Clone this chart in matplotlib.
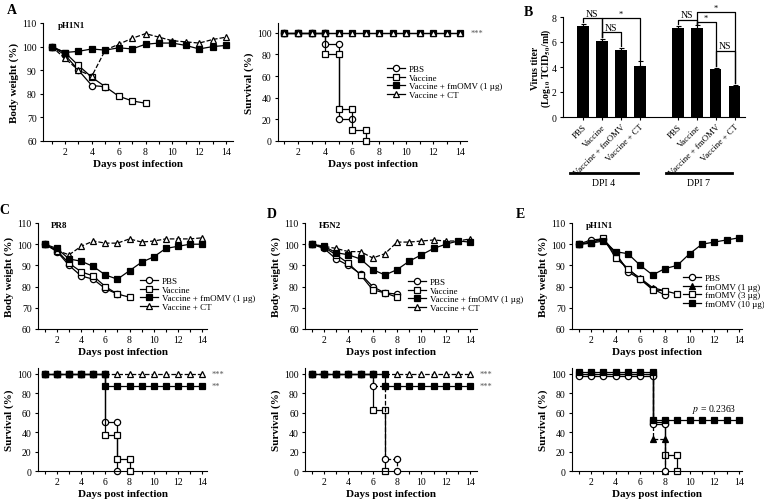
import matplotlib
matplotlib.use("Agg")
import matplotlib.pyplot as plt

plt.rcParams['font.family'] = ['Liberation Serif', 'DejaVu Serif']
plt.rcParams['mathtext.fontset'] = 'stix'
plt.rcParams['axes.linewidth'] = 0.8

W, H = 764, 502
days = list(range(1, 15))

# ---------------------------------------------------------
# DATA
# ---------------------------------------------------------
# A - pH1N1, body weight
a_pbs_w = [100, 96.5, 90, 83.5, 83]
a_vac_w = [100, 97.5, 92, 87, 83, 79, 77, 76]
a_fm_w = [100, 97.5, 98, 99, 98.5, 99.5, 99, 101, 101.5, 101.5, 100.5, 99, 100, 100.5]
a_ct_w = [100, 95, 90, 87.5, 98.5, 101, 103.5, 105.5, 104, 102.5, 102, 101.5, 103, 104]

# A - survival (step vertices)
a_pbs_sx = [1, 2, 3, 4, 4, 5, 5, 6]
a_pbs_sy = [100, 100, 100, 100, 90, 90, 20, 20]
a_vac_sx = [1, 2, 3, 4, 4, 5, 5, 6, 6, 7, 7]
a_vac_sy = [100, 100, 100, 100, 80, 80, 30, 30, 10, 10, 0]
a_fm_sx = days
a_fm_sy = [100] * 14
a_ct_sx = days
a_ct_sy = [100] * 14

# B - virus titer
b_labels = ["PBS", "Vaccine", "Vaccine + fmOMV", "Vaccine + CT"] * 2
b_pos = [0, 1, 2, 3, 5, 6, 7, 8]
b_vals = [7.25, 6.05, 5.4, 4.1, 7.15, 7.1, 3.85, 2.45]
b_err = [0.2, 0.2, 0.15, 0.35, 0.15, 0.25, 0.1, 0.15]
b_groups = ["DPI 4", "DPI 7"]
# significance brackets: left bar, right bar, height, text
br_left = [0, 1, 1, 5, 6, 6, 7]
br_right = [1, 3, 2, 6, 7, 8, 8]
br_height = [7.9, 7.9, 6.8, 7.8, 7.6, 8.4, 5.3]
br_text = ["NS", "*", "NS", "NS", "*", "*", "NS"]

# C - PR8
c_pbs_w = [100, 96.5, 90, 85, 83.5, 79, 76.5]
c_vac_w = [100, 97, 91, 87, 85, 80, 76.5, 75]
c_fm_w = [100, 98, 93, 92, 89.5, 85.5, 83.5, 87.5, 91.5, 94, 98, 99, 100, 100]
c_ct_w = [100, 97, 95, 99, 101.5, 100.5, 100.5, 102.5, 101, 101.5, 102.5, 102.5, 102.5, 103]

c_pbs_sx = [1, 2, 3, 4, 5, 6, 6, 7, 7]
c_pbs_sy = [100, 100, 100, 100, 100, 100, 50, 50, 0]
c_vac_sx = [1, 2, 3, 4, 5, 6, 6, 7, 7, 8, 8]
c_vac_sy = [100, 100, 100, 100, 100, 100, 37.5, 37.5, 12.5, 12.5, 0]
c_fm_sx = [1, 2, 3, 4, 5, 6, 6, 7, 8, 9, 10, 11, 12, 13, 14]
c_fm_sy = [100] * 6 + [87.5] * 9
c_ct_sx = days
c_ct_sy = [100] * 14

# D - H5N2
d_pbs_w = [100, 98, 93, 90, 86, 80, 77, 76.5]
d_vac_w = [100, 98.5, 95, 91, 85.5, 78.5, 77, 75]
d_fm_w = [100, 99, 96, 95, 93, 88, 85.5, 88, 92, 95, 98, 100, 101.5, 101]
d_ct_w = [100, 99, 98, 96.5, 96.5, 93.5, 95.5, 101, 101, 101.5, 102, 101.5, 101.5, 102.5]

d_pbs_sx = [1, 2, 3, 4, 5, 6, 6, 7, 7, 8, 8]
d_pbs_sy = [100, 100, 100, 100, 100, 100, 87.5, 87.5, 12.5, 12.5, 0]
d_vac_sx = [1, 2, 3, 4, 5, 6, 6, 7, 7]
d_vac_sy = [100, 100, 100, 100, 100, 100, 62.5, 62.5, 0]
d_fm_sx = [1, 2, 3, 4, 5, 6, 7, 7, 8, 9, 10, 11, 12, 13, 14]
d_fm_sy = [100] * 7 + [87.5] * 8
d_ct_sx = days
d_ct_sy = [100] * 14

# E - pH1N1, fmOMV dose
e_pbs_w = [100, 102, 102.5, 96, 87, 83.5, 79, 76]
e_f1_w = [100, 101, 102, 95, 88, 84, 79.5, 78]
e_f3_w = [100, 100.5, 103, 93.5, 88.5, 83.5, 78.5, 78, 76.5]
e_f10_w = [100, 100.5, 101.5, 96.5, 95.5, 90, 85.5, 88.5, 90, 95.5, 100, 101, 102, 103]

e_pbs_sx = [1, 2, 3, 4, 5, 6, 7, 7, 8, 8]
e_pbs_sy = [98] * 7 + [48, 48, 0]
e_f1_sx = [1, 2, 3, 4, 5, 6, 7, 7, 8, 8]
e_f1_sy = [100] * 7 + [33, 33, 0]
e_f3_sx = [1, 2, 3, 4, 5, 6, 7, 7, 8, 8, 9, 9]
e_f3_sy = [100] * 7 + [50, 50, 16.7, 16.7, 0]
e_f10_sx = [1, 2, 3, 4, 5, 6, 7, 7, 8, 9, 10, 11, 12, 13, 14]
e_f10_sy = [101.5] * 7 + [52] * 8

# ---------------------------------------------------------
# STILI
# ---------------------------------------------------------
OPEN_O = dict(marker='o', mfc='white')
OPEN_S = dict(marker='s', mfc='white')
FILL_S = dict(marker='s', mfc='black')
OPEN_T = dict(marker='^', mfc='white')
FILL_T = dict(marker='^', mfc='black')

LBL_ABC = ["PBS", "Vaccine", "Vaccine + fmOMV (1 µg)", "Vaccine + CT"]
LBL_E = ["PBS", "fmOMV (1 µg)", "fmOMV (3 µg)", "fmOMV (10 µg)"]

TICK_FS = 7
LAB_FS = 8
LEG_FS = 6.5


def box(l, t, r, b):
    return [l / W, 1 - b / H, (r - l) / W, (b - t) / H]


def style_axis(ax, xlim, ylim, yticks):
    ax.spines['top'].set_visible(False)
    ax.spines['right'].set_visible(False)
    ax.set_xlim(*xlim)
    ax.set_ylim(*ylim)
    ax.set_xticks(days)
    ax.set_xticklabels([str(d) if d % 2 == 0 else "" for d in days])
    ax.set_yticks(yticks)
    ax.tick_params(direction='out', length=2.5, width=0.8, labelsize=TICK_FS, pad=2)
    ax.set_xlabel("Days post infection", fontsize=LAB_FS, fontweight='bold', labelpad=2)


def draw_line(ax, x, y, st, ls='-', label=None, z=2):
    return ax.plot(x, y, color='black', lw=0.9, ls=ls, mec='black', mew=0.9,
                   ms=4.5, label=label, zorder=z, clip_on=False, **st)[0]


def weight_panel(pos, xlim, series, title):
    ax = fig.add_axes(box(*pos))
    for vals, st, ls, z in series:
        draw_line(ax, days[:len(vals)], vals, st, ls, z=z)
    style_axis(ax, xlim, (60, 110), range(60, 111, 10))
    ax.set_ylabel("Body weight (%)", fontsize=LAB_FS, fontweight='bold', labelpad=2)
    ax.text(xlim[0] + 1.1, 109, title, fontsize=6.5, fontweight='bold', va='center')
    return ax


def survival_panel(pos, xlim, ylim, series):
    ax = fig.add_axes(box(*pos))
    for x, y, st, ls, z in series:
        draw_line(ax, x, y, st, ls, z=z)
    style_axis(ax, xlim, ylim, range(0, 101, 20))
    ax.set_ylabel("Survival (%)", fontsize=LAB_FS, fontweight='bold', labelpad=2)
    return ax


def legend(ax, labels, styles, lss, x_px, y_px):
    handles = [plt.Line2D([], [], color='black', lw=0.9, ls=ls, mec='black', mew=0.9, ms=4.5, **st)
               for st, ls in zip(styles, lss)]
    ax.legend(handles, labels, loc='upper left', bbox_to_anchor=(x_px / W, 1 - y_px / H),
              bbox_transform=fig.transFigure, frameon=False, fontsize=LEG_FS,
              handlelength=2.0, handletextpad=0.4, labelspacing=0.02,
              borderpad=0, borderaxespad=0)


def stars(ax, y, txt):
    ax.text(14.75, y, txt, fontsize=6, color='#555555', va='center', ha='left', clip_on=False)


fig = plt.figure(figsize=(W / 100, H / 100), dpi=100)

# =====================================================
# A
# =====================================================
weight_panel((43, 24, 233, 142), (0.36, 14.52), [
    (a_pbs_w, OPEN_O, '-', 2),
    (a_vac_w, OPEN_S, '-', 3),
    (a_ct_w, OPEN_T, '--', 4),
    (a_fm_w, FILL_S, '-', 5),
], "pH1N1")

axs = survival_panel((278, 24, 467, 142), (0.52, 14.5), (0, 109), [
    (a_pbs_sx, a_pbs_sy, OPEN_O, '-', 2),
    (a_vac_sx, a_vac_sy, OPEN_S, '-', 3),
    (a_fm_sx, a_fm_sy, FILL_S, '-', 4),
    (a_ct_sx, a_ct_sy, OPEN_T, '-', 5),
])
stars(axs, 100, "***")
legend(axs, LBL_ABC, [OPEN_O, OPEN_S, FILL_S, OPEN_T], ['-', '-', '-', '-'], 387, 66)

# =====================================================
# B
# =====================================================
axb = fig.add_axes(box(563, 18, 745, 118))
axb.bar(b_pos, b_vals, width=0.62, color='black',
        yerr=[[0] * len(b_err), b_err],
        error_kw=dict(capsize=1.8, elinewidth=0.8, capthick=0.8, ecolor='black'))
axb.spines['top'].set_visible(False)
axb.spines['right'].set_visible(False)
axb.set_xlim(-1.05, 8.55)
axb.set_ylim(0, 8)
axb.set_yticks([0, 2, 4, 6, 8])
axb.set_xticks(b_pos)
axb.set_xticklabels(b_labels, rotation=45, ha='right', rotation_mode='anchor')
axb.tick_params(direction='out', length=2.5, width=0.8, labelsize=TICK_FS, pad=2)
axb.tick_params(axis='x', labelsize=6.4, pad=1.5)
axb.set_ylabel("Virus titer\n(Log$_{\\mathbf{10}}$ TCID$_{\\mathbf{50}}$/ml)",
               fontsize=7, fontweight='bold', labelpad=-1, linespacing=1.0)

for l, r, h, t in zip(br_left, br_right, br_height, br_text):
    il, ir = b_pos.index(l), b_pos.index(r)
    y1 = b_vals[il] + b_err[il] + 0.12
    y2 = b_vals[ir] + b_err[ir] + 0.12
    axb.plot([l, l, r, r], [y1, h, h, y2], color='black', lw=0.9, clip_on=False)
    axb.text((l + r) / 2, h + 0.03, t, fontsize=7 if t == "NS" else 6,
             ha='center', va='bottom', clip_on=False)

# linee DPI sotto le etichette
grp_lines = [(-0.68, 2.9), (4.4, 7.84)]
tr = axb.get_xaxis_transform()
for (x0, x1), g in zip(grp_lines, b_groups):
    axb.plot([x0, x1], [-0.56, -0.56], color='black', lw=2, transform=tr, clip_on=False)
    axb.text((x0 + x1) / 2, -0.61, g, fontsize=7, ha='center', va='top', transform=tr)

# =====================================================
# C
# =====================================================
axc = weight_panel((38, 224, 207, 330), (0.43, 14.41), [
    (c_pbs_w, OPEN_O, '-', 2),
    (c_vac_w, OPEN_S, '-', 3),
    (c_ct_w, OPEN_T, '--', 4),
    (c_fm_w, FILL_S, '-', 5),
], "PR8")
legend(axc, LBL_ABC, [OPEN_O, OPEN_S, FILL_S, OPEN_T], ['-', '-', '-', '-'], 140, 278)

axs = survival_panel((38, 369, 207, 472), (0.43, 14.41), (0, 106), [
    (c_pbs_sx, c_pbs_sy, OPEN_O, '-', 2),
    (c_vac_sx, c_vac_sy, OPEN_S, '-', 3),
    (c_ct_sx, c_ct_sy, OPEN_T, '--', 4),
    (c_fm_sx, c_fm_sy, FILL_S, '-', 5),
])
stars(axs, 100, "***")
stars(axs, 87.5, "**")

# =====================================================
# D
# =====================================================
axd = weight_panel((305, 224, 477, 330), (0.44, 14.56), [
    (d_pbs_w, OPEN_O, '-', 2),
    (d_vac_w, OPEN_S, '-', 3),
    (d_ct_w, OPEN_T, '--', 4),
    (d_fm_w, FILL_S, '-', 5),
], "H5N2")
legend(axd, LBL_ABC, [OPEN_O, OPEN_S, FILL_S, OPEN_T], ['-', '-', '-', '-'], 408, 279)

axs = survival_panel((305, 369, 477, 472), (0.44, 14.56), (0, 106), [
    (d_vac_sx, d_vac_sy, OPEN_S, '-', 2),
    (d_pbs_sx, d_pbs_sy, OPEN_O, '--', 3),
    (d_ct_sx, d_ct_sy, OPEN_T, '--', 4),
    (d_fm_sx, d_fm_sy, FILL_S, '-', 5),
])
stars(axs, 100, "***")
stars(axs, 87.5, "***")

# =====================================================
# E
# =====================================================
axe = weight_panel((572, 224, 742, 330), (0.46, 14.25), [
    (e_f1_w, FILL_T, '-', 2),
    (e_pbs_w, OPEN_O, '-', 3),
    (e_f3_w, OPEN_S, '-', 4),
    (e_f10_w, FILL_S, '-', 5),
], "pH1N1")
legend(axe, LBL_E, [OPEN_O, FILL_T, OPEN_S, FILL_S], ['-', '-', '-', '-'], 683, 275)

axs = survival_panel((572, 369, 742, 472), (0.46, 14.25), (0, 106), [
    (e_f3_sx, e_f3_sy, OPEN_S, '-', 2),
    (e_f1_sx, e_f1_sy, FILL_T, '--', 3),
    (e_pbs_sx, e_pbs_sy, OPEN_O, '-', 4),
    (e_f10_sx, e_f10_sy, FILL_S, '-', 5),
])
axs.text(12, 58, "$p$ = 0.2363", fontsize=7, ha='center', va='bottom')

# lettere pannelli
for txt, x, y in [("A", 12, 10), ("B", 528, 12), ("C", 4, 210), ("D", 272, 215), ("E", 520, 215)]:
    fig.text(x / W, 1 - y / H, txt, fontsize=10, fontweight='bold', ha='center', va='center')

fig.savefig("out.png", dpi=100)
